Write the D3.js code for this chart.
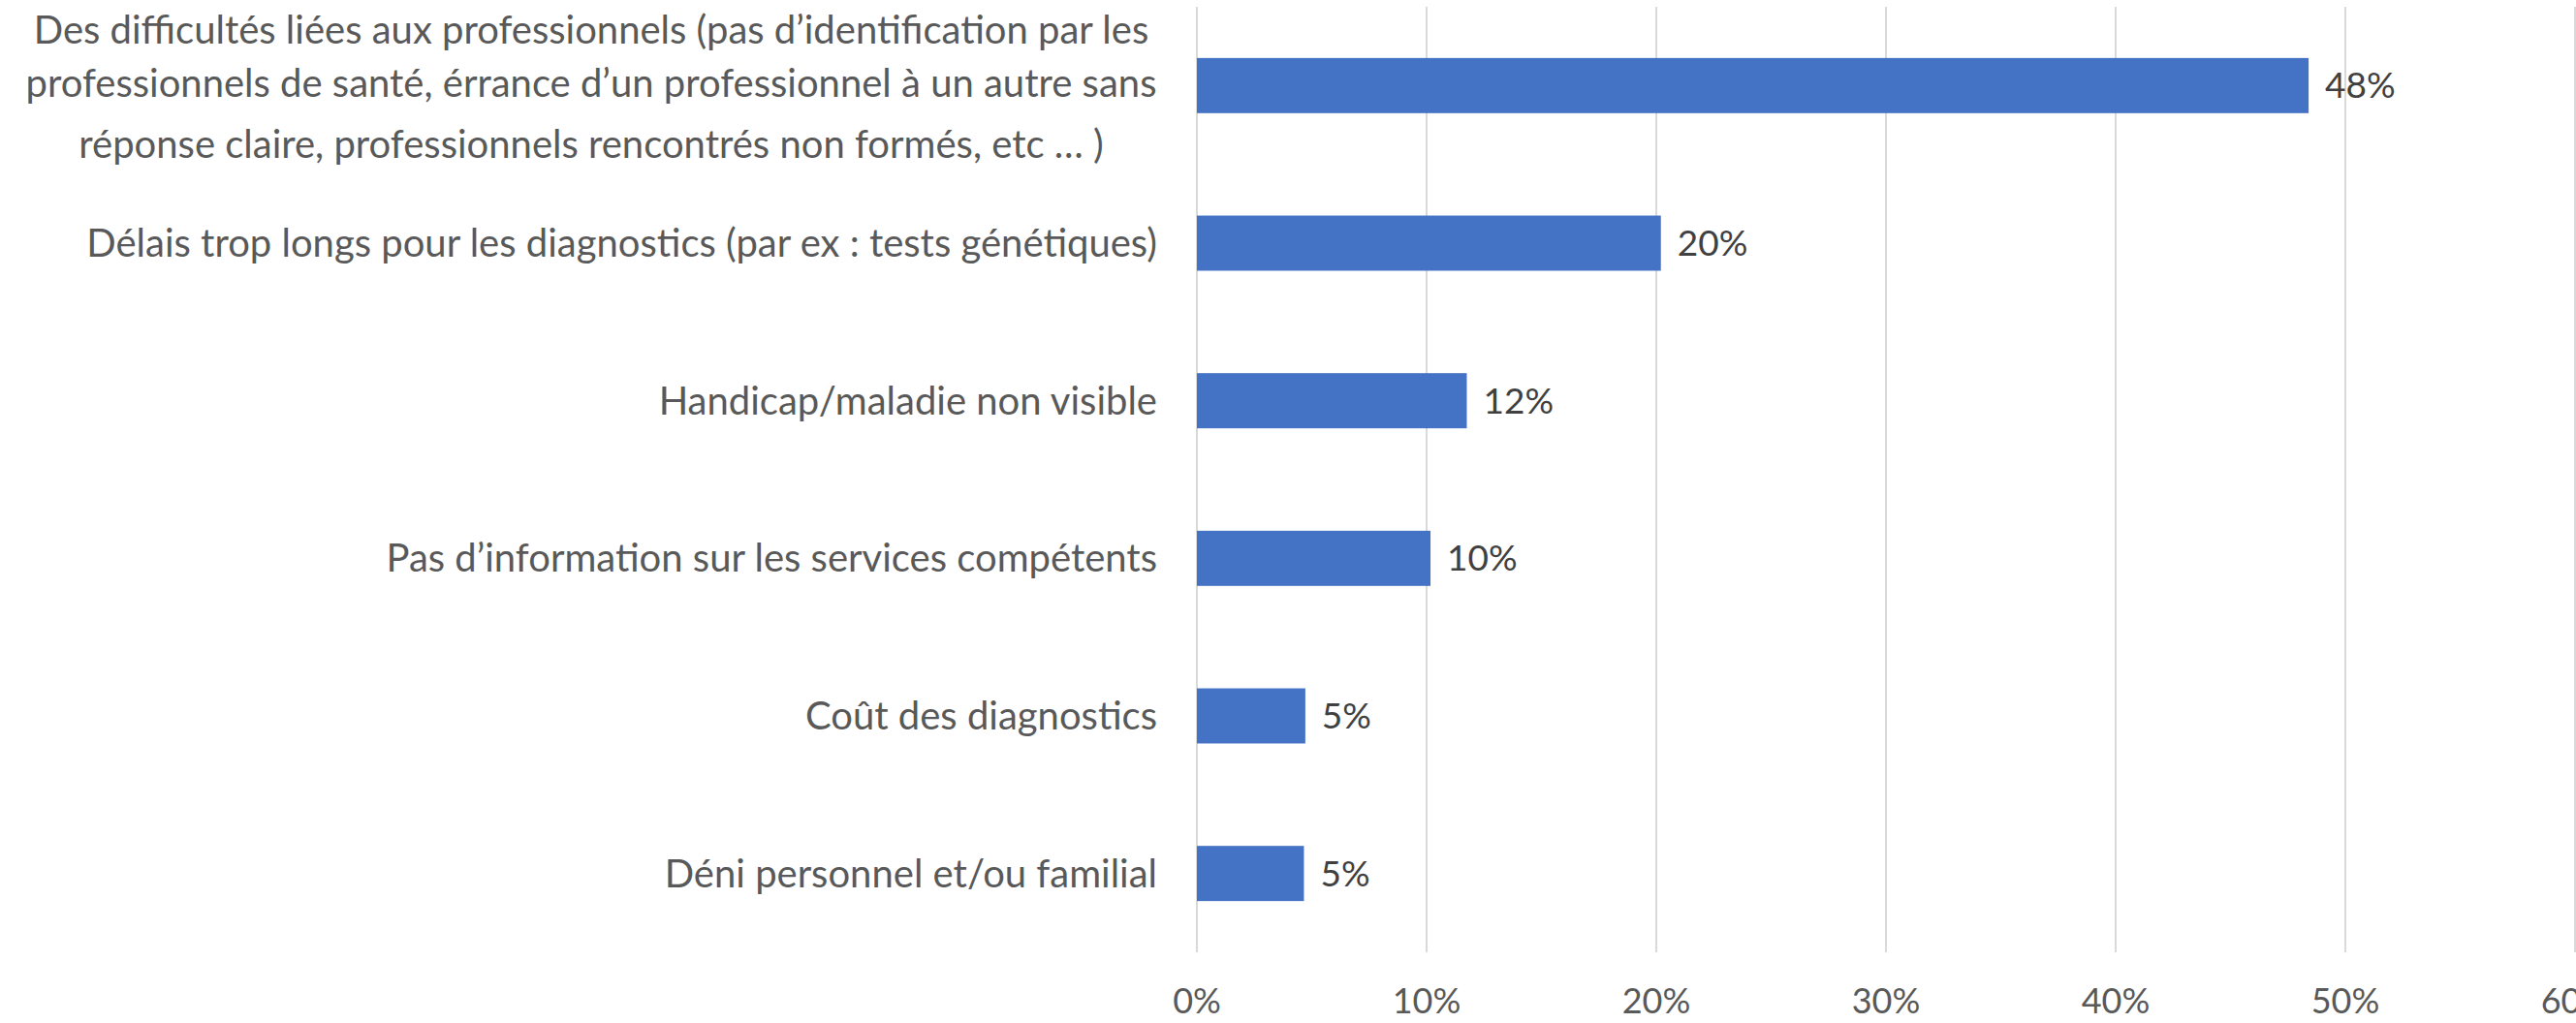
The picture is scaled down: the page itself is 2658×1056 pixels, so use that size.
<!DOCTYPE html>
<html>
<head>
<meta charset="utf-8">
<script src="https://cdn.jsdelivr.net/npm/d3@7"></script>
<style>
  body { margin: 0; background: #fff; }
  svg { display: block; }
  text { font-family: Lato, "Open Sans", sans-serif; }
</style>
</head>
<body>
<div id="chart"></div>
<script>
// categories, top to bottom
const categories = [
  "Des difficultés liées aux professionnels (pas d’identification par les professionnels de santé, érrance d’un professionnel à un autre sans réponse claire, professionnels rencontrés non formés, etc … )",
  "Délais trop longs pour les diagnostics (par ex : tests génétiques)",
  "Handicap/maladie non visible",
  "Pas d’information sur les services compétents",
  "Coût des diagnostics",
  "Déni personnel et/ou familial"
]
// lines for the wrapped first label
const firstLabelLines = [
  "Des difficultés liées aux professionnels (pas d’identification par les",
  "professionnels de santé, érrance d’un professionnel à un autre sans",
  "réponse claire, professionnels rencontrés non formés, etc … )"
]
const values = [0.484, 0.202, 0.1175, 0.1017, 0.0472, 0.0466]
const xTicks = [0, 0.1, 0.2, 0.3, 0.4, 0.5, 0.6]

const width = 2658, height = 1056
const plot = {left: 1235, right: 2657, top: 7, bottom: 983}

const svg = d3.select("#chart")
  .append("svg")
    .attr("width", width)
    .attr("height", height)

const x = d3.scaleLinear()
  .domain([0, 0.6])
  .range([plot.left, plot.right])

const y = d3.scaleBand()
  .domain(categories)
  .range([plot.top, plot.bottom])
  .paddingInner(0.65)
  .paddingOuter(0.325)

const pct = d3.format(".0%")

// vertical gridlines
svg.selectAll("line.grid")
  .data(xTicks)
  .enter()
  .append("line")
    .attr("class", "grid")
    .attr("x1", d => x(d))
    .attr("x2", d => x(d))
    .attr("y1", plot.top)
    .attr("y2", plot.bottom)
    .attr("stroke", "#d9d9d9")
    .attr("stroke-width", 2)

// x axis tick labels
svg.selectAll("text.tick")
  .data(xTicks)
  .enter()
  .append("text")
    .attr("class", "tick")
    .attr("x", d => x(d))
    .attr("y", 1046)
    .attr("text-anchor", "middle")
    .attr("font-size", 36)
    .attr("fill", "#595959")
    .text(d => pct(d))

// bars
svg.selectAll("rect.bar")
  .data(values)
  .enter()
  .append("rect")
    .attr("class", "bar")
    .attr("x", x(0))
    .attr("y", (d, i) => y(categories[i]))
    .attr("width", d => x(d) - x(0))
    .attr("height", y.bandwidth())
    .attr("fill", "#4472c4")

// data labels
svg.selectAll("text.value")
  .data(values)
  .enter()
  .append("text")
    .attr("class", "value")
    .attr("x", d => x(d) + 17)
    .attr("y", (d, i) => y(categories[i]) + y.bandwidth() / 2)
    .attr("dy", "0.35em")
    .attr("font-size", 37)
    .attr("fill", "#404040")
    .text(d => pct(d))

// category labels
const labelX = plot.left - 41
categories.forEach(function(c, i) {
  const cy = y(c) + y.bandwidth() / 2
  if (i == 0) {
    const offsets = [-43, 12, 75]
    const t = svg.append("text")
      .attr("text-anchor", "middle")
      .attr("font-size", 40)
      .attr("fill", "#595959")
    firstLabelLines.forEach(function(line, j) {
      t.append("tspan")
        .attr("x", 610)
        .attr("y", cy + offsets[j])
        .text(line)
    })
  } else {
    svg.append("text")
      .attr("x", labelX)
      .attr("y", cy)
      .attr("dy", "0.35em")
      .attr("text-anchor", "end")
      .attr("font-size", 40)
      .attr("fill", "#595959")
      .text(c)
  }
})
</script>
</body>
</html>
